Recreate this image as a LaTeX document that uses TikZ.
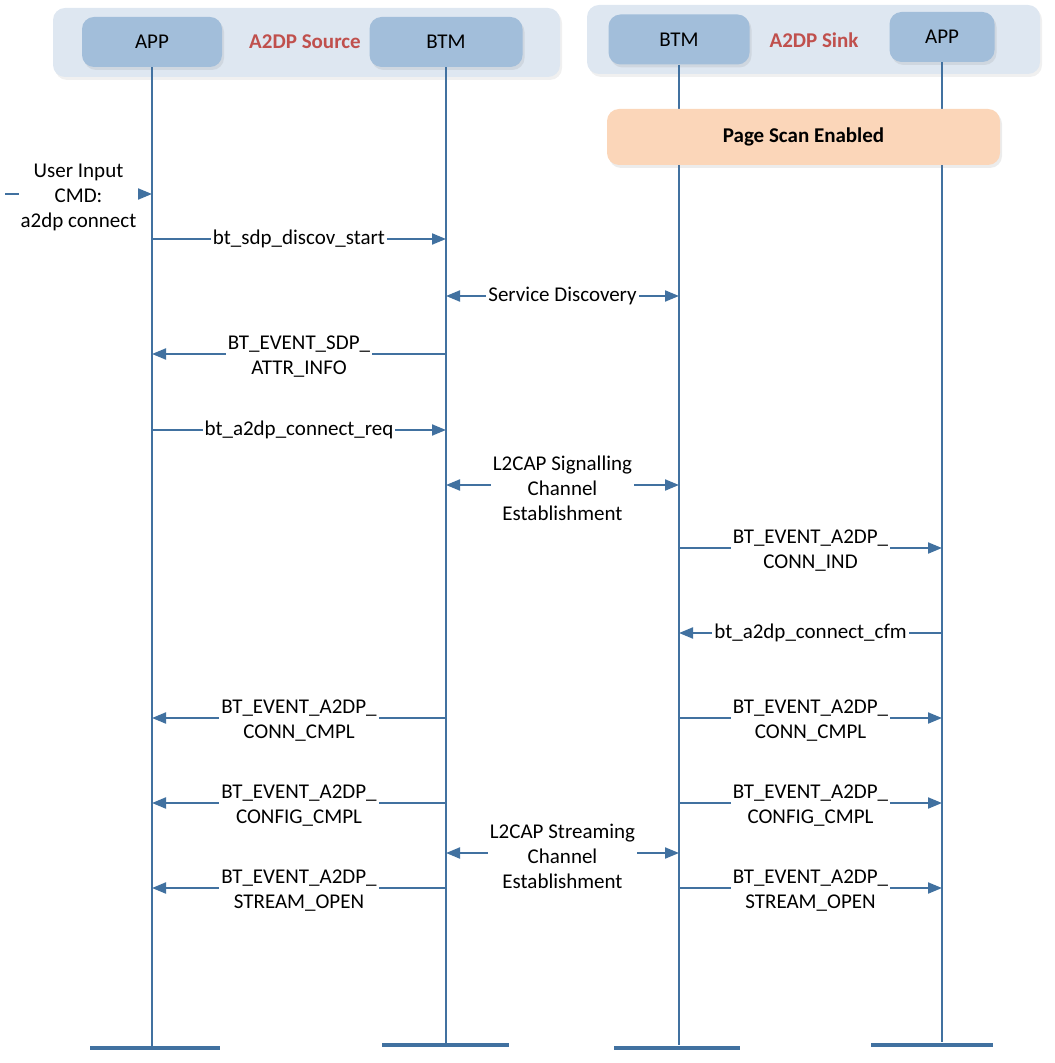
\documentclass[tikz,border=0pt]{standalone}
\usepackage{fontspec}
\setmainfont{Carlito}
\usetikzlibrary{positioning, calc, arrows.meta, shadows}

\definecolor{lineblue}{RGB}{65,113,160}
\definecolor{boxblue}{RGB}{162,190,218}
\definecolor{groupblue}{RGB}{222,231,241}
\definecolor{peach}{RGB}{251,214,185}
\definecolor{titlered}{RGB}{192,80,77}

\begin{document}
\begin{tikzpicture}[
    x=0.5pt, y=-0.5pt,
    >={Triangle[length=7pt,width=5.5pt]},
    every node/.style={font=\fontsize{10.5}{12.5}\selectfont},
    group/.style={fill=groupblue, rounded corners=6pt, minimum height=34.5pt,
        drop shadow={shadow xshift=1pt, shadow yshift=-1.5pt, opacity=0.12}},
    actor/.style={fill=boxblue, rounded corners=6pt, minimum height=25pt,
        drop shadow={shadow xshift=1pt, shadow yshift=-1.5pt, opacity=0.15}},
    title/.style={text=titlered, font=\fontsize{10.5}{12.5}\selectfont\bfseries},
    life/.style={draw=lineblue, line width=1pt},
    stopbar/.style={draw=lineblue, line width=2pt},
    msg/.style={draw=lineblue, line width=1pt, ->},
    lbl/.style={fill=white, inner sep=1pt, align=center},
    mlbl/.style={lbl, yshift=-1.5pt}]
    \useasboundingbox (0,0) rectangle (1054,1063);

    % A2DP source side
    \node[group, minimum width=253.5pt] (srcgrp) at (306.5,42.5) {};
    \node[actor, minimum width=70pt] (appA) at (152,42) {APP};
    \node[actor, minimum width=76.5pt] (btmA) at (446,42) {BTM};
    \node[title] (srctitle) at (305,42) {A2DP Source};

    % A2DP sink side
    \node[group, minimum width=226.5pt] (snkgrp) at (813.5,39.5) {};
    \node[actor, minimum width=70.5pt] (btmB) at (679,39.5) {BTM};
    \node[actor, minimum width=52.5pt] (appB) at (942,37) {APP};
    \node[title] (snktitle) at (814,40) {A2DP Sink};

    % lifelines
    \coordinate (appAend) at (152,1048);
    \coordinate (btmAend) at (446,1045);
    \coordinate (btmBend) at (679,1045);
    \coordinate (appBend) at (942,1042);
    \draw[life] (appA) -- (appAend);
    \draw[life] (btmA) -- (btmAend);
    \draw[life] (btmB) -- (btmBend);
    \draw[life] (appB) -- (appBend);
    \draw[stopbar] (90,1048) -- (220,1048);
    \draw[stopbar] (382,1045) -- (509,1045);
    \draw[stopbar] (614,1048) -- (740,1048);
    \draw[stopbar] (871,1045) -- (993,1045);

    \node[actor, fill=peach, minimum width=196.5pt, minimum height=28pt,
        font=\fontsize{10.5}{12.5}\selectfont\bfseries] (pagescan) at (803.5,137) {Page Scan Enabled};

    % messages
    \coordinate (userin) at (5,194);
    \draw[msg] (userin) -- node[mlbl] {User Input\\CMD:\\a2dp connect} (appA |- userin);
    \draw[msg] (appA |- 0,239) -- node[lbl] {bt\_sdp\_discov\_start} (btmA |- 0,239);
    \draw[msg, <->] (btmA |- 0,296) -- node[lbl] {Service Discovery} (btmB |- 0,296);
    \draw[msg] (btmA |- 0,354) -- node[mlbl] {BT\_EVENT\_SDP\_\\ATTR\_INFO} (appA |- 0,354);
    \draw[msg] (appA |- 0,430) -- node[lbl] {bt\_a2dp\_connect\_req} (btmA |- 0,430);
    \draw[msg, <->] (btmA |- 0,485) -- node[mlbl] {L2CAP Signalling\\Channel\\Establishment} (btmB |- 0,485);
    \draw[msg] (btmB |- 0,548) -- node[mlbl] {BT\_EVENT\_A2DP\_\\CONN\_IND} (appB |- 0,548);
    \draw[msg] (appB |- 0,633) -- node[lbl] {bt\_a2dp\_connect\_cfm} (btmB |- 0,633);
    \draw[msg] (btmA |- 0,718) -- node[mlbl] {BT\_EVENT\_A2DP\_\\CONN\_CMPL} (appA |- 0,718);
    \draw[msg] (btmB |- 0,718) -- node[mlbl] {BT\_EVENT\_A2DP\_\\CONN\_CMPL} (appB |- 0,718);
    \draw[msg] (btmA |- 0,803) -- node[mlbl] {BT\_EVENT\_A2DP\_\\CONFIG\_CMPL} (appA |- 0,803);
    \draw[msg] (btmB |- 0,803) -- node[mlbl] {BT\_EVENT\_A2DP\_\\CONFIG\_CMPL} (appB |- 0,803);
    \draw[msg, <->] (btmA |- 0,853) -- node[mlbl] {L2CAP Streaming\\Channel\\Establishment} (btmB |- 0,853);
    \draw[msg] (btmA |- 0,888) -- node[mlbl] {BT\_EVENT\_A2DP\_\\STREAM\_OPEN} (appA |- 0,888);
    \draw[msg] (btmB |- 0,888) -- node[mlbl] {BT\_EVENT\_A2DP\_\\STREAM\_OPEN} (appB |- 0,888);
\end{tikzpicture}
\end{document}
